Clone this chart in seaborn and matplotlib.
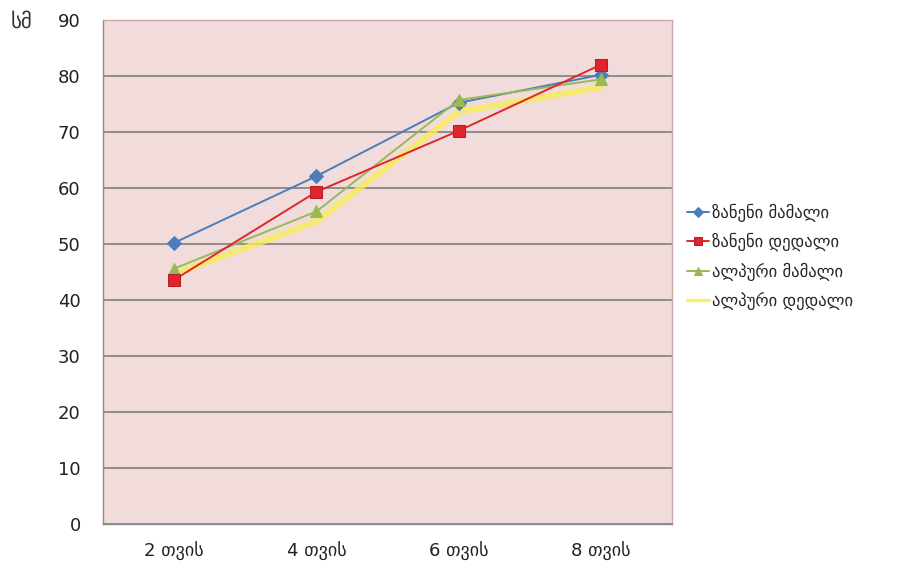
import matplotlib
matplotlib.use("Agg")
import matplotlib.pyplot as plt
import seaborn as sns

# data
months = ["2 თვის", "4 თვის", "6 თვის", "8 თვის"]
zan_male = [50.2, 62.1, 75.2, 80.2]
zan_female = [43.6, 59.3, 70.2, 82.0]
alp_male = [45.6, 55.8, 75.7, 79.4]
alp_female = [44.6, 54.0, 73.6, 78.0]
series_names = ["ზანენი მამალი", "ზანენი დედალი", "ალპური მამალი", "ალპური დედალი"]

sns.set_style("white")
plt.rcParams["font.family"] = ["DejaVu Sans"]

fig = plt.figure(figsize=(9.21, 5.69), dpi=100)
ax = fig.add_axes([0.1118, 0.0791, 0.6178, 0.8858])
ax.set_facecolor("#f2dcdb")

xs = list(range(len(months)))

sns.lineplot(x=xs, y=alp_female, ax=ax, color="#f7ec5a", linewidth=4.5, alpha=0.8,
             label=series_names[3], zorder=2)
sns.lineplot(x=xs, y=zan_male, ax=ax, color="#4a7ebb", linewidth=1.4, marker="D",
             markersize=7, markeredgecolor="#4a7ebb", label=series_names[0], zorder=3)
sns.lineplot(x=xs, y=zan_female, ax=ax, color="#e0262c", linewidth=1.4, marker="s",
             markersize=8, markeredgecolor="#b32025", label=series_names[1], zorder=4)
sns.lineplot(x=xs, y=alp_male, ax=ax, color="#98b954", linewidth=1.4, marker="^",
             markersize=8, markeredgecolor="#98b954", label=series_names[2], zorder=3)

ax.set_xlim(-0.5, 3.5)
ax.set_ylim(0, 90)
ax.set_yticks(range(0, 91, 10))
ax.set_xticks(xs)
ax.set_xticklabels(months)
ax.tick_params(axis="both", length=0, labelsize=13, colors="#222222")
ax.tick_params(axis="x", pad=13)
ax.tick_params(axis="y", pad=16)
ax.yaxis.grid(True, color="#7f7f7f", linewidth=1.2)
ax.set_axisbelow(True)
for side, sp in ax.spines.items():
    sp.set_color("#c8a8a8")
    sp.set_linewidth(1)
ax.spines["left"].set_color("#8a8a8a")
ax.spines["bottom"].set_color("#8a8a8a")
ax.set_xlabel("")
ax.set_ylabel("")

fig.text(0.011, 0.962, "სმ", fontsize=15, color="#333333", ha="left", va="center")

handles, labels = ax.get_legend_handles_labels()
order = [labels.index(n) for n in series_names]
leg = ax.legend([handles[i] for i in order], [labels[i] for i in order],
                loc="center left", bbox_to_anchor=(1.0, 0.53), frameon=False,
                fontsize=12, handlelength=1.3, handletextpad=0.2, labelspacing=0.65,
                markerscale=0.7)
leg.get_lines()[3].set_linewidth(2.5)

fig.savefig("out.png", dpi=100)
